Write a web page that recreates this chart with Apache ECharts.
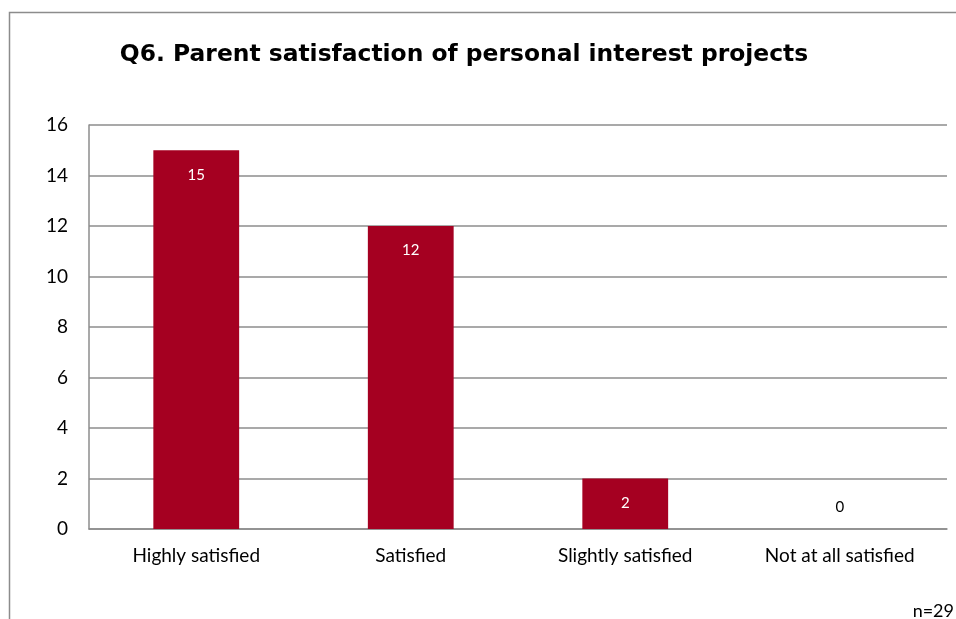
<!DOCTYPE html>
<html lang="en">
<head>
    <meta charset="UTF-8">
    <title>Q6. Parent satisfaction of personal interest projects</title>
    <script src="https://cdn.jsdelivr.net/npm/echarts@6/dist/echarts.min.js"></script>
    <style>
        html, body { margin: 0; padding: 0; background: #fff; }
        #chart { width: 956px; height: 619px; }
    </style>
</head>
<body>
    <div id="chart"></div>
    <script>
        // data
        const categories = ['Highly satisfied', 'Satisfied', 'Slightly satisfied', 'Not at all satisfied'];
        const counts = [15, 12, 2, 0];
        const yTicks = { min: 0, max: 16, interval: 2 };
        const font = 'Lato, "Open Sans", sans-serif';

        const chart = echarts.init(document.getElementById('chart'));

        // zero bars get their label above the axis in black
        const barData = counts.map(v => {
            if (v === 0) {
                return { value: v, label: { position: 'top', color: '#000', distance: 14 } };
            }
            return v;
        });

        chart.setOption({
            animation: false,
            textStyle: { fontFamily: font },
            title: {
                text: 'Q6. Parent satisfaction of personal interest projects',
                left: 459,
                textAlign: 'center',
                top: 38,
                textStyle: { fontSize: 23.4, fontWeight: 'bold', color: '#000', fontFamily: '"DejaVu Sans", sans-serif' }
            },
            graphic: [
                {
                    type: 'rect',
                    shape: { x: 9.5, y: 12.5, width: 1000, height: 700 },
                    style: { fill: 'none', stroke: '#8c8c8c', lineWidth: 1.5 },
                    silent: true
                },
                {
                    type: 'text',
                    right: 2,
                    top: 602,
                    style: { text: 'n=29', fontSize: 18, fill: '#000', fontFamily: font }
                }
            ],
            grid: { left: 89, right: 9, top: 125, bottom: 90, containLabel: false },
            xAxis: {
                type: 'category',
                data: categories,
                axisLine: { show: true, lineStyle: { color: '#8c8c8c', width: 1.5 } },
                axisTick: { show: false },
                axisLabel: { color: '#000', fontSize: 19, margin: 17 }
            },
            yAxis: {
                type: 'value',
                min: yTicks.min,
                max: yTicks.max,
                interval: yTicks.interval,
                axisLine: { show: true, lineStyle: { color: '#8c8c8c', width: 1.5 } },
                axisTick: { show: false },
                axisLabel: { color: '#000', fontSize: 19, margin: 21 },
                splitLine: { lineStyle: { color: '#8c8c8c', width: 1.5 } }
            },
            series: [{
                type: 'bar',
                data: barData,
                barWidth: '40%',
                itemStyle: { color: '#a50021' },
                label: {
                    show: true,
                    position: 'insideTop',
                    distance: 17,
                    color: '#fff',
                    fontSize: 15
                }
            }]
        });
    </script>
</body>
</html>
